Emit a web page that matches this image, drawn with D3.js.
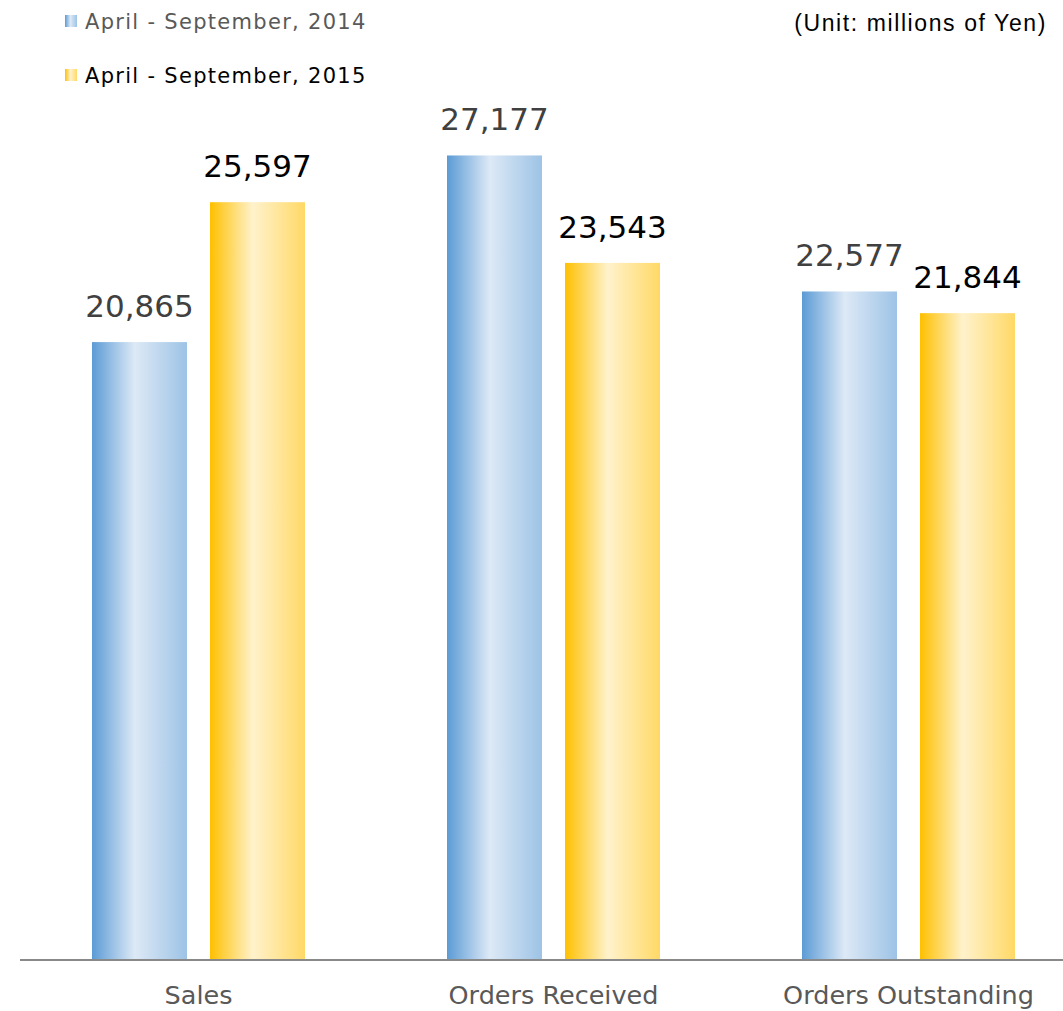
<!DOCTYPE html>
<html><head><meta charset="utf-8">
<script src="https://cdn.jsdelivr.net/npm/d3@7/dist/d3.min.js"></script>
<style>body{margin:0;background:#fff}svg{display:block}</style>
</head><body>
<svg id="c" width="1063" height="1011"></svg>
<script>
const categories = ["Sales", "Orders Received", "Orders Outstanding"];
const seriesNames = ["April - September, 2014", "April - September, 2015"];
const values2014 = [20865, 27177, 22577];
const values2015 = [25597, 23543, 21844];
const unitLabel = "(Unit: millions of Yen)";

const svg = d3.select("#c");
const baseY = 959;
const y = d3.scaleLinear().domain([0, 30000]).range([baseY, baseY - 887]);
const x0 = d3.scaleBand().domain(categories).range([21, 1086]).paddingInner(0).paddingOuter(0);
const x1 = d3.scaleBand().domain([0, 1]).range([71, 355 - 71]).paddingInner(23 / 213 * 2 / (1 + 23/213)).paddingOuter(0);

const defs = svg.append("defs");
const grads = [
  {id: "gBlue", stops: [["0%", "#5b9bd5"], ["45%", "#dde9f6"], ["100%", "#9dc3e6"]]},
  {id: "gGold", stops: [["0%", "#ffc000"], ["45%", "#fff2cc"], ["100%", "#ffd966"]]}
];
grads.forEach(g => {
  const lg = defs.append("linearGradient").attr("id", g.id).attr("x1", "0%").attr("x2", "100%").attr("y1", "0%").attr("y2", "0%");
  g.stops.forEach(s => lg.append("stop").attr("offset", s[0]).attr("stop-color", s[1]));
});

const series = [values2014, values2015];
const fills = ["url(#gBlue)", "url(#gGold)"];
const labelColors = ["#404040", "#000000"];
const legendColors = ["#595959", "#000000"];
const font = "'DejaVu Sans', Verdana, sans-serif";

series.forEach((vals, si) => {
  const g = svg.append("g");
  g.selectAll("rect").data(vals).join("rect")
    .attr("x", (d, i) => x0(categories[i]) + x1(si))
    .attr("width", x1.bandwidth())
    .attr("y", d => y(d))
    .attr("height", d => baseY - y(d))
    .attr("fill", fills[si]);
  g.selectAll("text").data(vals).join("text")
    .attr("x", (d, i) => x0(categories[i]) + x1(si) + x1.bandwidth() / 2)
    .attr("y", d => y(d) - 25)
    .attr("text-anchor", "middle")
    .attr("font-family", font)
    .attr("font-size", 31)
    .attr("fill", labelColors[si])
    .text(d => d3.format(",")(d));
});

svg.append("line").attr("x1", 20).attr("x2", 1063).attr("y1", baseY + 1).attr("y2", baseY + 1)
  .attr("stroke", "#898989").attr("stroke-width", 2);

svg.append("g").selectAll("text").data(categories).join("text")
  .attr("x", d => x0(d) + x0.bandwidth() / 2)
  .attr("y", 1004)
  .attr("text-anchor", "middle")
  .attr("font-family", font)
  .attr("font-size", 25.5)
  .attr("fill", "#595959")
  .text(d => d);

const leg = svg.append("g");
seriesNames.forEach((n, i) => {
  const yy = 21 + i * 54;
  leg.append("rect").attr("x", 65).attr("y", yy - 6).attr("width", 12).attr("height", 12).attr("fill", fills[i]);
  leg.append("text").attr("x", 85).attr("y", yy + 8)
    .attr("font-family", font).attr("font-size", 21).attr("letter-spacing", 1.3)
    .attr("fill", legendColors[i]).text(n);
});

svg.append("text").attr("x", 1047).attr("y", 31).attr("text-anchor", "end")
  .attr("font-family", "'Liberation Sans', Arial, sans-serif").attr("font-size", 23).attr("letter-spacing", 1.6)
  .attr("fill", "#000").text(unitLabel);
</script>
</body></html>
